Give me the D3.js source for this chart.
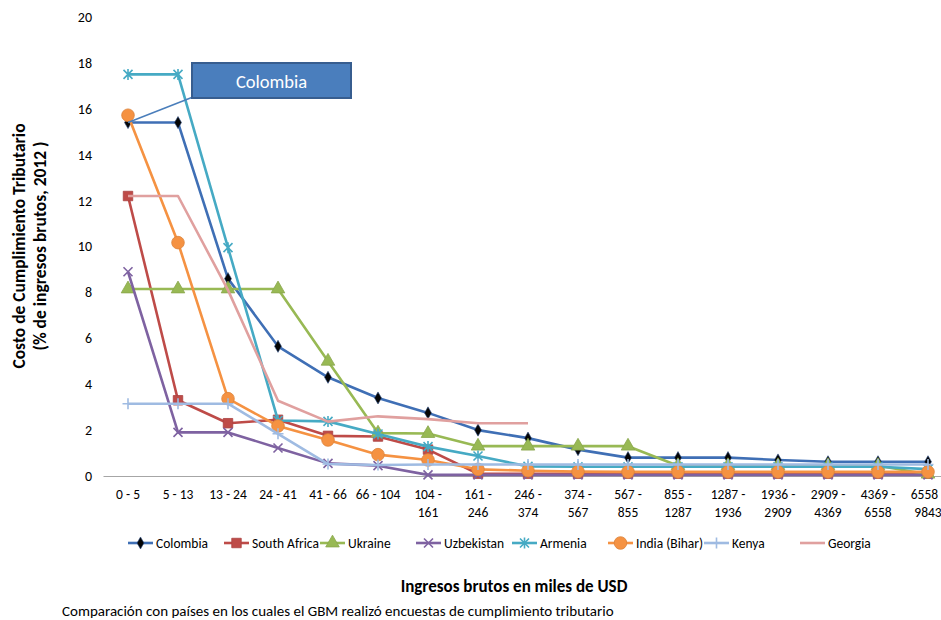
<!DOCTYPE html>
<html><head><meta charset="utf-8">
<script src="https://cdn.jsdelivr.net/npm/d3@7/dist/d3.min.js"></script>
<style>
body{margin:0;background:#fff;}
text{font-family:Carlito,Calibri,Lato,"Open Sans",sans-serif;fill:#000;}
</style></head>
<body><svg id="c" width="941" height="620"></svg>
<script>
const categories = ["0 - 5","5 - 13","13 - 24","24 - 41","41 - 66","66 - 104","104 - 161","161 - 246","246 - 374","374 - 567","567 - 855","855 - 1287","1287 - 1936","1936 - 2909","2909 - 4369","4369 - 6558","6558 - 9843"];
const yTicks = [0,2,4,6,8,10,12,14,16,18,20];
const colombia    = [15.4,15.4,8.6,5.65,4.3,3.4,2.75,2.0,1.65,1.15,0.8,0.8,0.8,0.7,0.62,0.62,0.62];
const southAfrica = [12.2,3.3,2.3,2.45,1.75,1.72,1.15,0.1,0.1,0.1,0.1,0.1,0.1,0.1,0.1,0.1,0.1];
const ukraine     = [8.15,8.15,8.15,8.15,5.0,1.87,1.85,1.3,1.3,1.3,1.3,0.45,0.45,0.45,0.45,0.45,0.08];
const uzbekistan  = [8.9,1.9,1.9,1.22,0.55,0.45,0.05,0.05,0.05,0.05,0.05,0.05,0.05,0.05,0.05,0.05,0.05];
const armenia     = [17.5,17.5,9.95,2.42,2.38,1.83,1.28,0.87,0.42,0.4,0.4,0.4,0.4,0.4,0.4,0.4,0.3];
const india       = [15.72,10.17,3.37,2.18,1.57,0.93,0.7,0.29,0.23,0.19,0.18,0.18,0.18,0.18,0.18,0.18,0.18];
const kenya       = [3.15,3.15,3.15,1.84,0.52,0.48,0.5,0.5,0.5,0.5,0.5,0.5,0.5,0.5,0.5,0.5,0.5];
const georgia     = [12.2,12.2,8.1,3.28,2.37,2.6,2.48,2.3,2.3,null,null,null,null,null,null,null,null];
const seriesNames = ["Colombia","South Africa","Ukraine","Uzbekistan","Armenia","India (Bihar)","Kenya","Georgia"];
const seriesValues = [colombia,southAfrica,ukraine,uzbekistan,armenia,india,kenya,georgia];
const seriesColors = ["#3f6fb5","#be4b48","#98b954","#7e62a1","#46aac4","#f59242","#9fbbe2","#e0a09f"];
const seriesMarkers = ["diamond","square","triangle","x","asterisk","circle","plus","none"];
const yTitle1 = "Costo de Cumplimiento Tributario";
const yTitle2 = "(% de ingresos brutos, 2012 )";
const xTitle = "Ingresos brutos en miles de USD";
const footnote = "Comparación con países en los cuales el GBM realizó encuestas de cumplimiento tributario";
const calloutText = "Colombia";

const svg = d3.select("#c");
svg.append("rect").attr("width",941).attr("height",620).attr("fill","#fff");

const x = d3.scaleBand().domain(categories).range([103,953]);
const y = d3.scaleLinear().domain([0,20]).range([476,17]);
const cx = c => x(c) + x.bandwidth()/2;

// Y axis (labels only)
const ya = svg.append("g").attr("transform","translate(103,0)")
  .call(d3.axisLeft(y).tickValues(yTicks).tickSize(0).tickPadding(11));
ya.select(".domain").remove();
ya.selectAll("text").style("font-size","14px").style("font-family","Carlito,Calibri,Lato,sans-serif").attr("fill","#000");

// X axis
const xa = svg.append("g").attr("transform","translate(0,476)")
  .call(d3.axisBottom(x).tickSize(0).tickFormat(""));
xa.select(".domain").attr("stroke","#a6a6a6").attr("stroke-width",1.2);
xa.selectAll(".tick").each(function(c){
  const t = d3.select(this).append("text").attr("text-anchor","middle")
    .style("font-size","13.5px").attr("fill","#000");
  const first = parseInt(c);
  if (first >= 100) {
    const parts = c.split(" - ");
    t.append("tspan").attr("x",0).attr("y",23).text(parts[0]+" -");
    t.append("tspan").attr("x",0).attr("y",41).text(parts[1]);
  } else {
    t.append("tspan").attr("x",0).attr("y",23).text(c);
  }
});

function markerPath(type){
  switch(type){
    case "diamond": return d3.symbol(d3.symbolDiamond,42)();
    case "square": return d3.symbol(d3.symbolSquare,90)();
    case "triangle": return d3.symbol(d3.symbolTriangle,80)();
    case "circle": return d3.symbol(d3.symbolCircle,125)();
    case "x": return "M-4.5,-4.5L4.5,4.5M-4.5,4.5L4.5,-4.5";
    case "asterisk": return "M-4.5,-4.5L4.5,4.5M-4.5,4.5L4.5,-4.5M0,-5.5L0,5.5";
    case "plus": return "M-5.5,0L5.5,0M0,-5.5L0,5.5";
  }
  return null;
}
function drawMarker(g, type, color, px, py){
  if (type==="none") return;
  const p = g.append("path").attr("d",markerPath(type)).attr("transform",`translate(${px},${py})`);
  if (type==="x"||type==="asterisk"||type==="plus"){
    p.attr("fill","none").attr("stroke",color).attr("stroke-width",1.6);
  } else if (type==="diamond"){
    p.attr("fill","#050505").attr("stroke","#2a4a80").attr("stroke-width",0.6);
  } else {
    p.attr("fill",color).attr("stroke",d3.color(color).darker(0.3)).attr("stroke-width",0.8);
  }
}

const line = d3.line().defined(d=>d!=null).x((d,i)=>cx(categories[i])).y(d=>y(d));
const plot = svg.append("g");
seriesValues.forEach((vals,k)=>{
  const g = plot.append("g");
  g.append("path").datum(vals).attr("d",line).attr("fill","none")
    .attr("stroke",seriesColors[k]).attr("stroke-width",2.6).attr("stroke-linejoin","round");
  vals.forEach((v,i)=>{ if(v!=null) drawMarker(g, seriesMarkers[k], seriesColors[k], cx(categories[i]), y(v)); });
});

// Callout
const cg = svg.append("g");
cg.append("line").attr("x1",193).attr("y1",97).attr("x2",cx(categories[0])).attr("y2",y(colombia[0]))
  .attr("stroke","#4a7ebb").attr("stroke-width",1.5);
cg.append("rect").attr("x",192).attr("y",63).attr("width",159).attr("height",35)
  .attr("fill","#4a7ebd").attr("stroke","#375d8f").attr("stroke-width",2);
cg.append("text").attr("x",271.5).attr("y",88).attr("text-anchor","middle")
  .style("font-size","18.5px").style("fill","#fff").text(calloutText);

// Legend
const lg = svg.append("g");
seriesNames.forEach((n,k)=>{
  const lx = 125 + k*96, ly = 543;
  lg.append("line").attr("x1",lx+3).attr("x2",lx+28).attr("y1",ly).attr("y2",ly)
    .attr("stroke",seriesColors[k]).attr("stroke-width",2.6);
  drawMarker(lg, seriesMarkers[k], seriesColors[k], lx+15.5, ly);
  lg.append("text").attr("x",lx+31).attr("y",ly+5).style("font-size","13.5px").text(n);
});

// Titles
svg.append("text").attr("transform","translate(25,246) rotate(-90)").attr("text-anchor","middle")
  .style("font-size","17.5px").style("font-weight","bold").text(yTitle1);
svg.append("text").attr("transform","translate(46,246) rotate(-90)").attr("text-anchor","middle")
  .style("font-size","17.5px").style("font-weight","bold").text(yTitle2);
svg.append("text").attr("x",514).attr("y",592).attr("text-anchor","middle")
  .style("font-size","17px").style("font-weight","bold").text(xTitle);
svg.append("text").attr("x",62).attr("y",616).style("font-size","15px").text(footnote);
</script></body></html>
